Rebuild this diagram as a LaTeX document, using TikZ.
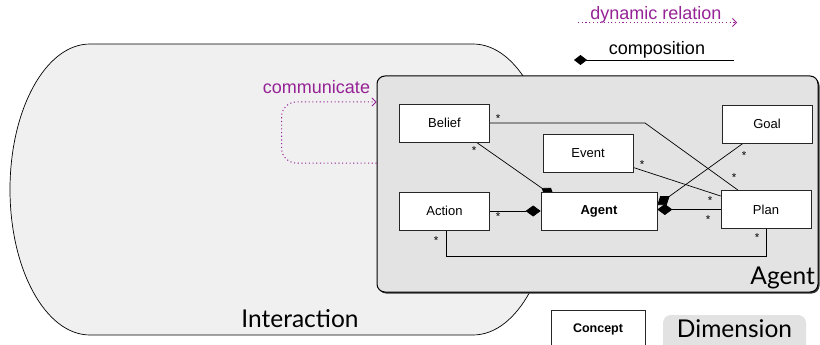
\documentclass[tikz,border=0pt]{standalone}
\usepackage{fontspec}
\setmainfont{Liberation Sans}
\newfontfamily\dimfont{Lato}
\usetikzlibrary{arrows.meta,calc}
\definecolor{interfill}{HTML}{F0F0F0}
\definecolor{panelfill}{HTML}{E3E3E3}
\definecolor{tagfill}{HTML}{E2E2E2}
\definecolor{relpurple}{HTML}{952395}
\pgfdeclarelayer{back}
\pgfdeclarelayer{mid}
\pgfsetlayers{back,mid,main}

\begin{document}
\begin{tikzpicture}[x=1pt,y=-1pt,
  concept/.style={draw=black!85, line width=0.7pt, fill=white,
    minimum width=90pt, minimum height=38pt, inner sep=0pt,
    font=\fontsize{13}{15}\selectfont},
  link/.style={draw=black, line width=0.7pt},
  comp/.style={link, -{Diamond[length=15pt,width=11pt]}},
  mult/.style={font=\fontsize{11.5}{12}\selectfont, inner sep=0pt, anchor=base},
  dyn/.style={draw=relpurple, line width=1pt, dash pattern=on 1.1pt off 2.6pt,
    -{Straight Barb[length=4pt,width=8pt,line width=0.8pt]}},
  dimlabel/.style={font=\dimfont\fontsize{24.5}{26}\selectfont, inner sep=0pt},
  reltext/.style={font=\fontsize{18}{20}\selectfont, inner sep=0pt, anchor=base}
]
\useasboundingbox (0,0) rectangle (820,345);

% ---------- Interaction dimension (stadium shape) ----------
\begin{pgfonlayer}{back}
  \path[fill=interfill, draw=black, line width=0.7pt]
    (90,44) -- (473,44)
    .. controls (517.2,44) and (553,109.1) .. (553,189.5)
    .. controls (553,269.9) and (517.2,335) .. (473,335)
    -- (90,335)
    .. controls (45.8,335) and (10,269.9) .. (10,189.5)
    .. controls (10,109.1) and (45.8,44) .. (90,44) -- cycle;
  % Agent dimension panel with its shadow
  \fill[black!80, rounded corners=8pt] (378.2,77.6) rectangle (819.5,293.5);
  \node[draw=black, line width=1pt, fill=panelfill, rounded corners=8pt,
        minimum width=441pt, minimum height=216pt, inner sep=0pt]
        (panel) at (597.5,184) {};
\end{pgfonlayer}

\node[dimlabel, anchor=base] (interlabel) at (300,327.5) {Interaction};
\node[dimlabel, anchor=base east] (agentlabel) at (815,284) {Agent};

% ---------- Concepts ----------
\node[concept] (belief) at (444.5,123) {Belief};
\node[concept] (goal)   at (767,124)   {Goal};
\node[concept] (event)  at (588,153.5) {Event};
\node[concept] (action) at (444.5,211) {Action};
\node[concept, minimum width=116pt, font=\fontsize{13}{15}\selectfont\bfseries]
      (agent)  at (599,211) {Agent};
\node[concept] (plan)   at (766,209.5) {Plan};

% ---------- Relations ----------
\begin{pgfonlayer}{mid}
  \draw[link] (belief.east) -- (645,123) -- ([xshift=-28pt]plan.north);
  \draw[comp] ([xshift=32pt]belief.south) -- ([xshift=-45pt,yshift=-5pt]agent.north);
  \draw[link] ([yshift=-14pt]event.east) -- ([yshift=13.5pt]plan.west);
  \draw[comp] ([xshift=-24pt]goal.south) -- ([yshift=6pt]agent.east);
  \draw[comp] (plan.west) -- (plan.west -| agent.east);
  \draw[comp] (action.east) -- (agent.west);
  \draw[link] ([xshift=1.5pt]action.south) -- ++(0,26) -| (plan.south);
\end{pgfonlayer}

% multiplicities
\node[mult] at (498,122.5) {*};
\node[mult] at (474,154.5) {*};
\node[mult] at (642,168.5) {*};
\node[mult] at (744,159.5) {*};
\node[mult] at (734,181.5) {*};
\node[mult] at (710,204.5) {*};
\node[mult] at (708,223.5) {*};
\node[mult] at (498,220.5) {*};
\node[mult] at (436,244.5) {*};
\node[mult] at (757,241.5) {*};

% ---------- communicate loop ----------
\draw[dyn, rounded corners=15pt] ([yshift=21pt]panel.west) -- ++(-95,0)
      -- ++(0,-61) -- ([yshift=82pt]panel.west);
\node[reltext, text=relpurple] (commlabel) at (316.5,93) {communicate};

% ---------- legend ----------
\coordinate (dynA) at (578,22.5);
\coordinate (dynB) at (737,22.5);
\draw[dyn] (dynA) -- (dynB);
\node[reltext, text=relpurple] (dynlabel) at (656,20) {dynamic relation};

\coordinate (compA) at (734,60);
\coordinate (compB) at (574,60);
\draw[link, -{Diamond[length=13pt,width=10pt]}] (compA) -- (compB);
\node[reltext] (complabel) at (657,55) {composition};

\node[concept, minimum width=94pt, minimum height=40pt,
      font=\fontsize{12.5}{14}\selectfont\bfseries, text depth=4pt]
      (conceptkey) at (598,330) {Concept};
\node[fill=tagfill, rounded corners=8pt, minimum width=143pt,
      minimum height=40pt, inner sep=0pt] (dimkey) at (734.5,335) {};
\node[dimlabel, anchor=base] (dimkeylabel) at (734.5,337) {Dimension};
\end{tikzpicture}
\end{document}
